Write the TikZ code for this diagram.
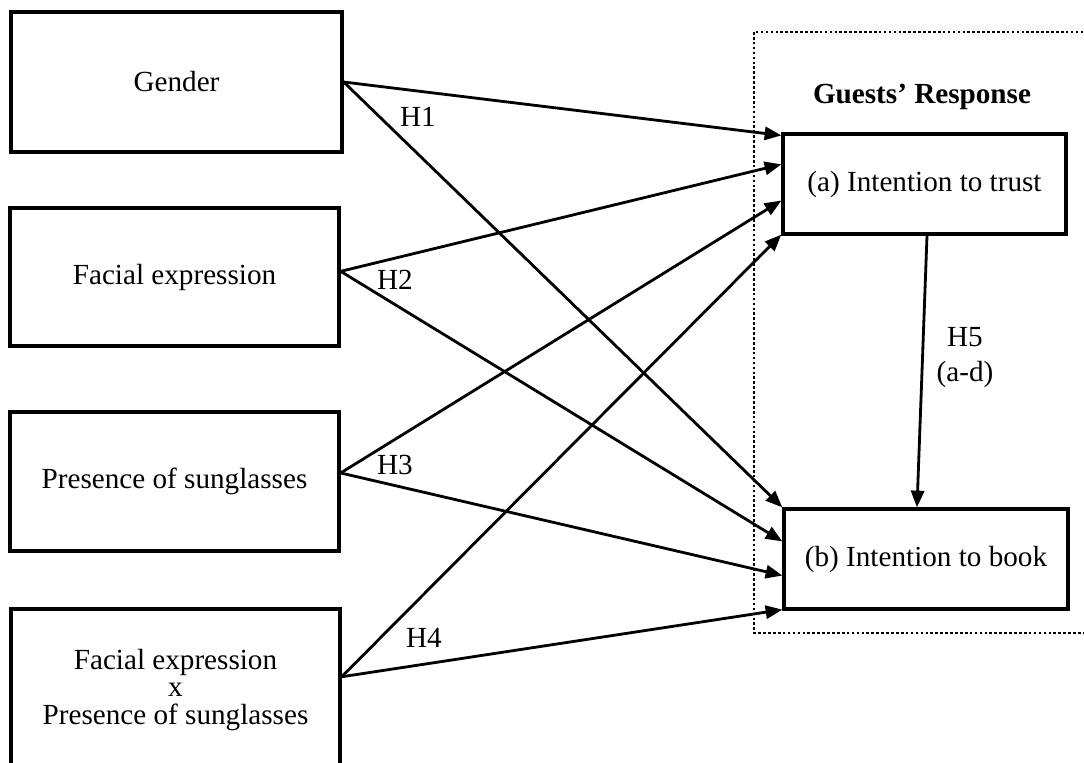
\documentclass[tikz,border=0pt]{standalone}
\usepackage{fontspec}
\setmainfont{Liberation Serif}
\usepackage{tikz}
\usetikzlibrary{arrows.meta, calc}
\tikzset{->, >={Triangle[length=9.5pt,width=7.5pt]}, font=\fontsize{16.6}{15.9}\selectfont}
\tikzset{box/.style={rectangle, draw, line width=1.9pt, align=center, inner sep=0pt},
         link/.style={line width=1.6pt}}

\begin{document}
\begin{tikzpicture}
\useasboundingbox (0,0) rectangle (21.68,-15.24);
%\draw[help lines] (0,0) grid (22,-16);
\path (3.53,-1.64) node(gender) [box,minimum width=6.62cm,minimum height=2.80cm] {Gender}
(3.49,-5.54) node(facial) [box,minimum width=6.58cm,minimum height=2.76cm] {Facial expression}
(3.49,-9.63) node(sunglasses) [box,minimum width=6.58cm,minimum height=2.78cm] {Presence of sunglasses}
(3.51,-13.80) node(interaction) [box,minimum width=6.58cm,minimum height=3.24cm] {Facial expression\\x\\Presence of sunglasses}
(18.49,-3.68) node(trust) [box,minimum width=5.66cm,minimum height=2.00cm] {(a) Intention to trust}
(18.52,-11.18) node(book) [box,minimum width=5.68cm,minimum height=2.00cm] {(b) Intention to book}
(18.44,-1.94) node(response) {\textbf{Guests’ Response}};

% dotted frame round the responses
\draw[-, line width=1.5pt, dash pattern=on 1.5pt off 1.3pt] (15.08,-0.64) rectangle (21.95,-12.66);

% where the arrows leave and meet the boxes
\coordinate (gender_out) at (gender.east);
\coordinate (facial_out) at ($(facial.north east)!0.46!(facial.south east)$);
\coordinate (sunglasses_out) at ($(sunglasses.north east)!0.44!(sunglasses.south east)$);
\coordinate (interaction_out) at ($(interaction.north east)!0.42!(interaction.south east)$);
\coordinate (trust_in1) at ($(trust.north west)!0.03!(trust.south west)$);
\coordinate (trust_in2) at ($(trust.north west)!0.31!(trust.south west)$);
\coordinate (trust_in3) at ($(trust.north west)!0.66!(trust.south west)$);
\coordinate (trust_in4) at ($(trust.north west)!0.99!(trust.south west)$);
\coordinate (book_in1) at ($(book.north west)!0.0!(book.south west)$);
\coordinate (book_in2) at ($(book.north west)!0.33!(book.south west)$);
\coordinate (book_in3) at ($(book.north west)!0.66!(book.south west)$);
\coordinate (book_in4) at ($(book.north west)!0.99!(book.south west)$);

\draw[link] (gender_out) -- (trust_in1);
\draw[link] (gender_out) -- (book_in1);
\draw[link] (facial_out) -- (trust_in2);
\draw[link] (facial_out) -- (book_in2);
\draw[link] (sunglasses_out) -- (trust_in3);
\draw[link] (sunglasses_out) -- (book_in3);
\draw[link] (interaction_out) -- (trust_in4);
\draw[link] (interaction_out) -- (book_in4);
\draw[link] ([xshift=0.05cm]trust.south) -- ([xshift=-0.18cm]book.north);

\path (8.36,-2.34) node(h1) {H1}
(7.90,-5.60) node(h2) {H2}
(7.90,-9.30) node(h3) {H3}
(8.48,-12.76) node(h4) {H4}
(19.30,-7.15) node(h5) [align=center] {H5\\[4pt](a-d)};
\end{tikzpicture}
\end{document}
